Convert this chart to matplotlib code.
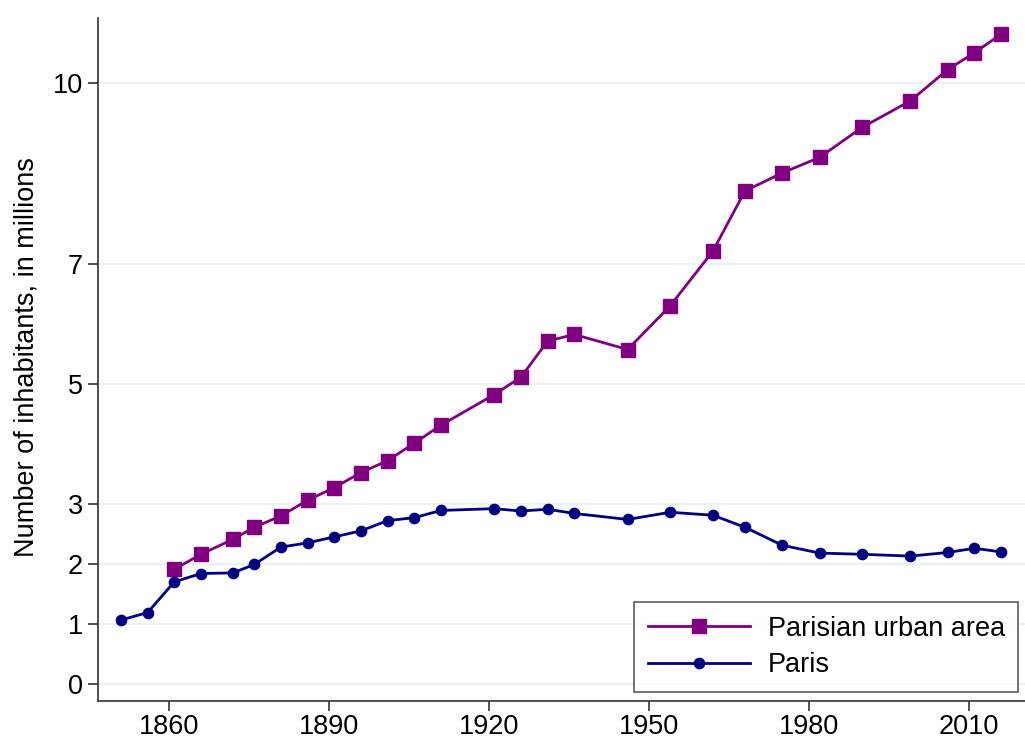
import matplotlib
matplotlib.use("Agg")
import matplotlib.pyplot as plt

plt.rcParams['font.family'] = ['Liberation Sans', 'DejaVu Sans']

paris_years = [1851, 1856, 1861, 1866, 1872, 1876, 1881, 1886, 1891, 1896, 1901, 1906,
               1911, 1921, 1926, 1931, 1936, 1946, 1954, 1962, 1968, 1975, 1982, 1990,
               1999, 2006, 2011, 2016]
paris_pop = [1.065, 1.19, 1.70, 1.84, 1.85, 1.99, 2.28, 2.35, 2.45, 2.55, 2.72, 2.77,
             2.89, 2.92, 2.88, 2.91, 2.84, 2.74, 2.86, 2.81, 2.61, 2.31, 2.18, 2.16,
             2.13, 2.19, 2.26, 2.20]

urban_years = [1861, 1866, 1872, 1876, 1881, 1886, 1891, 1896, 1901, 1906, 1911, 1921,
               1926, 1931, 1936, 1946, 1954, 1962, 1968, 1975, 1982, 1990, 1999, 2006,
               2011, 2016]
urban_pop = [1.91, 2.16, 2.41, 2.61, 2.80, 3.06, 3.27, 3.52, 3.72, 4.01, 4.31, 4.82,
             5.11, 5.71, 5.82, 5.57, 6.30, 7.21, 8.21, 8.51, 8.77, 9.27, 9.71, 10.23,
             10.51, 10.82]

y_ticks = [0, 1, 2, 3, 5, 7, 10]
x_ticks = [1860, 1890, 1920, 1950, 1980, 2010]

W, H = 1025, 740
fig = plt.figure(figsize=(W / 100, H / 100), dpi=100)
ax = fig.add_axes([98 / W, 1 - 701 / H, (1025 - 98) / W, (701 - 18) / H])

purple = '#800080'
navy = '#000080'
fs = 19.5

ax.plot(urban_years, urban_pop, color=purple, lw=2, marker='s', ms=10,
        label='Parisian urban area', zorder=3)
ax.plot(paris_years, paris_pop, color=navy, lw=2, marker='o', ms=7.4,
        label='Paris', zorder=3)

ax.set_xlim(1846.7, 2020.5)
ax.set_ylim(-0.283, 11.09)
ax.set_yticks(y_ticks)
ax.set_xticks(x_ticks)
ax.yaxis.grid(True, color='#eaf2f3', lw=1.6)
ax.set_axisbelow(True)

for s in ['top', 'right']:
    ax.spines[s].set_visible(False)
for s in ['left', 'bottom']:
    ax.spines[s].set_color('#333333')
    ax.spines[s].set_linewidth(1.2)

ax.tick_params(axis='y', length=7, width=1.2, pad=4, labelsize=fs, color='#333333')
ax.tick_params(axis='x', length=7.5, width=1.2, pad=2, labelsize=fs, color='#333333')

ax.set_ylabel('Number of inhabitants, in millions', fontsize=fs)
ax.yaxis.set_label_coords(-0.063, 0.504)

leg = ax.legend(loc='upper left', bbox_to_anchor=(634 / W, 1 - 602 / H),
                bbox_transform=fig.transFigure, fontsize=fs, frameon=True,
                fancybox=False, edgecolor='#333333', handlelength=3.8,
                handletextpad=0.63, borderpad=0.5, labelspacing=0.4,
                borderaxespad=0)
leg.get_frame().set_linewidth(1.2)

fig.savefig('out.png', dpi=100)
